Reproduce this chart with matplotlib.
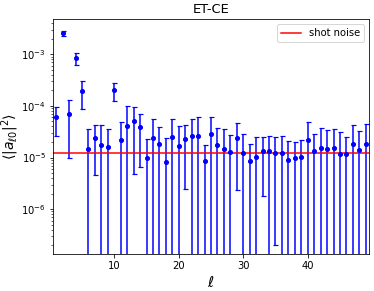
import numpy as np
import matplotlib
matplotlib.use("Agg")
import matplotlib.pyplot as plt

ell = list(range(1, 50))
values = [6.0e-5, 2.56e-3, 7.0e-5, 8.5e-4, 1.94e-4, 1.47e-5, 2.40e-5, 1.76e-5, 1.61e-5, 2.0e-4,
          2.2e-5, 4.1e-5, 5.07e-5, 3.87e-5, 1.0e-5, 2.37e-5, 1.87e-5, 8.2e-6, 2.51e-5, 1.66e-5,
          2.30e-5, 2.59e-5, 2.59e-5, 8.75e-6, 2.8e-5, 1.76e-5, 1.45e-5, 1.29e-5, 2.44e-5, 1.20e-5,
          8.6e-6, 1.04e-5, 1.34e-5, 1.31e-5, 1.25e-5, 1.25e-5, 9.1e-6, 9.8e-6, 1.01e-5, 2.14e-5,
          1.31e-5, 1.50e-5, 1.48e-5, 1.56e-5, 1.16e-5, 1.16e-5, 1.87e-5, 1.39e-5, 1.79e-5]
errors = [3.4e-5, 2.7e-4, 6.0e-5, 2.3e-4, 1.05e-4, 2.1e-5, 1.95e-5, 2.5e-5, 1.9e-5, 7.5e-5,
          2.7e-5, 5.7e-5, 4.6e-5, 3.2e-5, 1.26e-5, 3.2e-5, 2.0e-5, 1.6e-5, 2.96e-5, 2.45e-5,
          2.05e-5, 2.9e-5, 3.55e-5, 9.1e-6, 3.3e-5, 2.0e-5, 2.1e-5, 1.5e-5, 2.2e-5, 1.7e-5,
          1.0e-5, 1.47e-5, 1.16e-5, 1.3e-5, 1.23e-5, 1.38e-5, 1.2e-5, 1.0e-5, 1.16e-5, 2.77e-5,
          1.5e-5, 2.3e-5, 1.96e-5, 1.94e-5, 1.9e-5, 1.35e-5, 2.37e-5, 1.85e-5, 2.6e-5]
shot_noise = 1.25e-5

fig = plt.figure(figsize=(374/72, 291/72), dpi=72)
ax = fig.add_axes([53/374, (291-254.3)/291, (369-53)/374, (254.3-19.3)/291])
ax.errorbar(ell, values, yerr=errors, fmt='o', color='blue', ecolor='blue',
            ms=4, capsize=2.5, elinewidth=1.5, capthick=1.2)
ax.axhline(shot_noise, color='red', lw=1.5, label='shot noise')
ax.set_yscale('log')
ax.set_xlim(0.5, 49.5)
ax.set_ylim(1.33e-7, 4.79e-3)
ax.set_xticks([10, 20, 30, 40])
ax.set_title('ET-CE', fontsize=13)
ax.set_xlabel(r'$\ell$', fontsize=15)
ax.set_ylabel(r'$\langle |a_{\ell 0}|^2 \rangle$', fontsize=14)
ax.yaxis.set_label_coords(-0.1, 0.5)
ax.legend(loc='upper right', fontsize=10)
fig.savefig('out.png', dpi=72)
